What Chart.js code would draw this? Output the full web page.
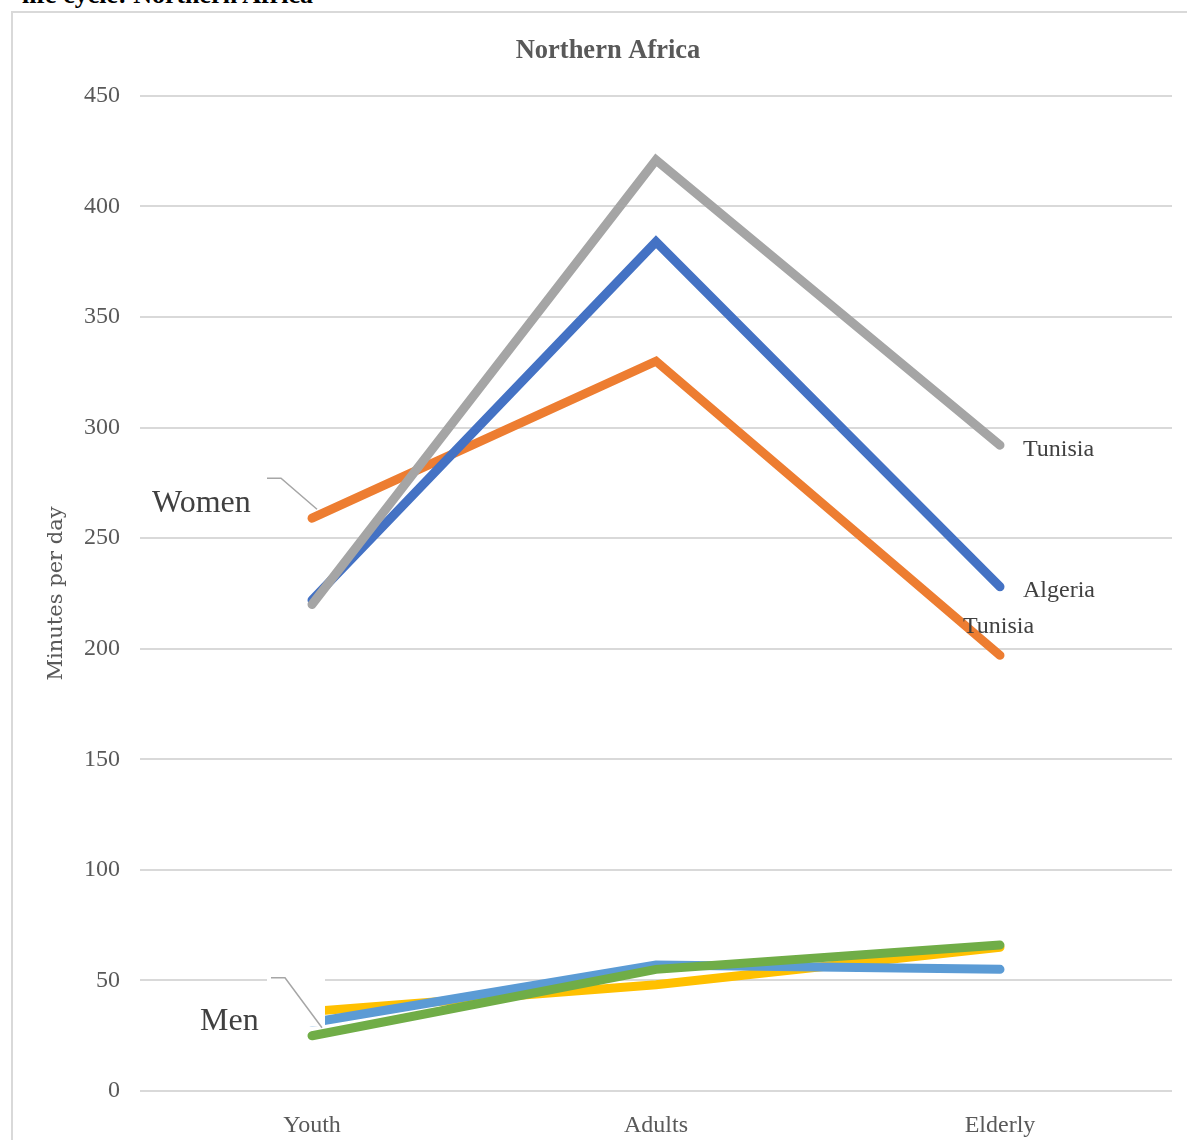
<!DOCTYPE html>
<html>
<head>
<meta charset="utf-8">
<script src="https://cdn.jsdelivr.net/npm/chart.js@4/dist/chart.umd.min.js"></script>
<style>
  html, body { margin: 0; padding: 0; background: #fff; }
  body { width: 1187px; height: 1140px; position: relative; overflow: hidden; }
  #heading {
    position: absolute; left: 22px; top: -20px; margin: 0;
    font: bold 26px "Liberation Serif", "Times New Roman", serif; color: #000;
    white-space: nowrap;
  }
  #frame {
    position: absolute; left: 11px; top: 11px; width: 1200px; height: 1200px;
    border: 2px solid #d9d9d9; box-sizing: border-box;
  }
  #wrap { position: absolute; left: 0; top: 0; width: 1187px; height: 1140px; }
</style>
</head>
<body>
<p id="heading">life cycle: Northern Africa</p>
<div id="frame"></div>
<div id="wrap"><canvas id="chart" width="1187" height="1140"></canvas></div>
<script>
// Unpaid care work by stage of life, minutes per day
const stages = ['Youth', 'Adults', 'Elderly'];

const womenTunisiaGray = [220, 421, 292];
const womenAlgeria     = [222, 384, 228];
const womenTunisia     = [259, 330, 197];

const menYellow    = [36, 48, 65];
const menLightBlue = [31, 57, 55];
const menGreen     = [25, 55, 66];

const yTicks = [0, 50, 100, 150, 200, 250, 300, 350, 400, 450];

const serif = '"Liberation Serif", "Times New Roman", serif';
const textGray = '#595959';
const labelGray = '#404040';

function series(label, data, color, order, endLabel) {
  return {
    label, data, endLabel,
    borderColor: color, backgroundColor: color,
    borderWidth: 9, borderCapStyle: 'round', borderJoinStyle: 'miter',
    pointRadius: 0, pointHoverRadius: 0, tension: 0, fill: false, order
  };
}

const MEN_CAPTION_DS = 3;   // green line carries the "Men" caption
const WOMEN_CAPTION_DS = 2; // orange line carries the "Women" caption

// Names at the end of the women's lines, plus the group captions with leader lines
const annotations = {
  id: 'annotations',
  beforeDatasetDraw(chart, args) {
    // white backing of the "Men" caption box, laid over the lines beneath it
    if (args.index !== MEN_CAPTION_DS) return;
    const p = chart.getDatasetMeta(MEN_CAPTION_DS).data[0];
    const ctx = chart.ctx;
    ctx.save();
    ctx.fillStyle = '#ffffff';
    ctx.fillRect(p.x - 45, p.y - 62, 58, 53);
    ctx.restore();
  },
  afterDatasetsDraw(chart) {
    const ctx = chart.ctx;
    ctx.save();
    ctx.fillStyle = labelGray;
    ctx.textBaseline = 'middle';
    ctx.textAlign = 'left';
    ctx.font = '24px ' + serif;
    chart.data.datasets.forEach((ds, i) => {
      if (!ds.endLabel) return;
      const pt = chart.getDatasetMeta(i).data[stages.length - 1];
      ctx.fillText(ds.endLabel.text, pt.x + ds.endLabel.dx, pt.y + ds.endLabel.dy);
    });

    const group = (dsIndex, text, tx, ty, lead) => {
      const p = chart.getDatasetMeta(dsIndex).data[0];
      ctx.font = '32px ' + serif;
      ctx.fillStyle = labelGray;
      ctx.fillText(text, p.x + tx, p.y + ty);
      ctx.strokeStyle = '#a6a6a6';
      ctx.lineWidth = 1.5;
      ctx.beginPath();
      ctx.moveTo(p.x + lead[0][0], p.y + lead[0][1]);
      for (let k = 1; k < lead.length; k++) ctx.lineTo(p.x + lead[k][0], p.y + lead[k][1]);
      ctx.stroke();
    };
    group(WOMEN_CAPTION_DS, 'Women', -160, -15, [[-45, -40], [-31, -40], [5, -9]]);
    group(MEN_CAPTION_DS, 'Men', -112, -14, [[-41, -58], [-27, -58], [10, -8]]);
    ctx.restore();
  }
};

new Chart(document.getElementById('chart'), {
  type: 'line',
  data: {
    labels: stages,
    datasets: [
      series('Tunisia', womenTunisiaGray, '#a5a5a5', 1, { text: 'Tunisia', dx: 23, dy: 4 }),
      series('Algeria', womenAlgeria, '#4472c4', 2, { text: 'Algeria', dx: 23, dy: 4 }),
      series('Tunisia', womenTunisia, '#ed7d31', 3, { text: 'Tunisia', dx: -37, dy: -29 }),
      series('Men 1', menGreen, '#70ad47', 4),
      series('Men 2', menLightBlue, '#5b9bd5', 5),
      series('Men 3', menYellow, '#ffc000', 6)
    ]
  },
  options: {
    responsive: false,
    animation: false,
    events: [],
    layout: { padding: { left: 44, right: 15, top: 0, bottom: 0 } },
    plugins: {
      legend: { display: false },
      tooltip: { enabled: false },
      title: {
        display: true,
        text: 'Northern Africa',
        color: textGray,
        font: { family: serif, size: 26.5, weight: 'bold', lineHeight: 1.2 },
        padding: { top: 35, bottom: 29 }
      }
    },
    scales: {
      x: {
        offset: true,
        grid: { display: false, drawTicks: false },
        border: { display: false },
        ticks: { color: textGray, font: { family: serif, size: 24 }, padding: 20 },
        afterFit(scale) { scale.height = 49; }
      },
      y: {
        min: 0, max: 450,
        afterBuildTicks(scale) { scale.ticks = yTicks.map(v => ({ value: v })); },
        grid: { color: '#d9d9d9', lineWidth: 2, drawTicks: false },
        border: { display: false },
        ticks: { color: textGray, font: { family: serif, size: 24 }, padding: 20 },
        title: {
          display: true, text: 'Minutes per day', color: textGray,
          font: { family: '"DejaVu Serif", serif', size: 21 }, padding: 0
        },
        afterFit(scale) { scale.width = 96; }
      }
    }
  },
  plugins: [annotations]
});
</script>
</body>
</html>
